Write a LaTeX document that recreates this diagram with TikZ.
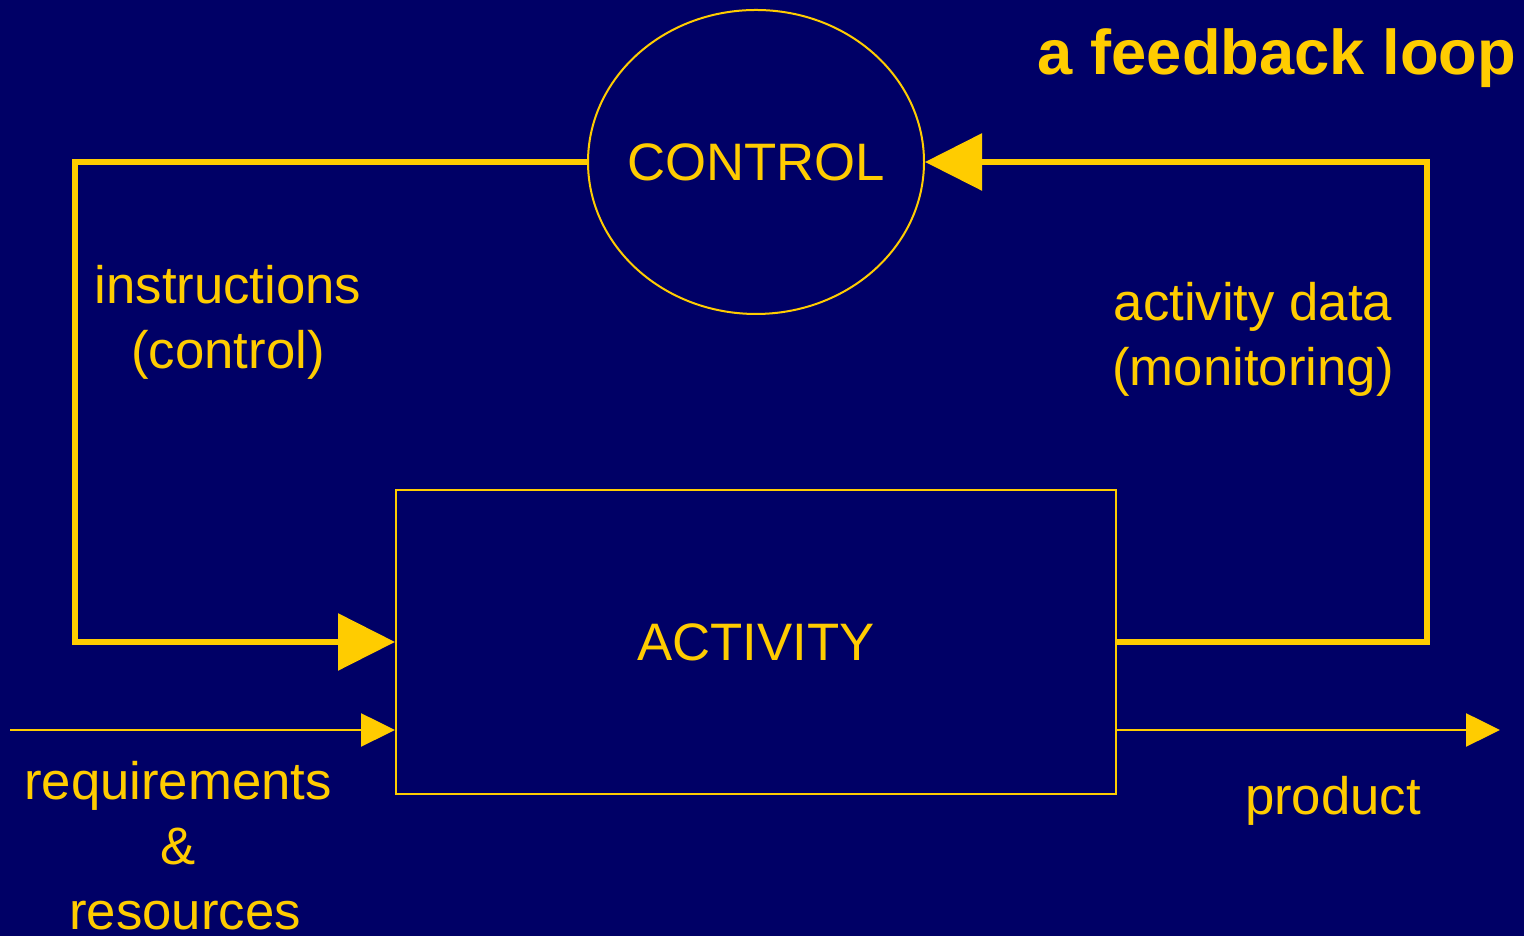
\documentclass[tikz,border=0pt]{standalone}
\usepackage{fontspec}
\setmainfont{Liberation Sans}
\usetikzlibrary{arrows.meta,shapes.geometric}

\definecolor{slidebg}{RGB}{0,0,102}
\definecolor{slidefg}{RGB}{255,204,0}

\tikzset{
	slidetext/.style={text=slidefg, font=\fontsize{15}{18.5}\selectfont, inner sep=0pt, align=center},
	loopline/.style={draw=slidefg, line width=0.06cm, -{Triangle[length=0.57cm, width=0.56cm]}},
	flowline/.style={draw=slidefg, line width=0.025cm, -{Triangle[length=0.34cm, width=0.33cm]}},
}

\begin{document}
\begin{tikzpicture}

		% background
		\useasboundingbox (0,0) rectangle (15.24,9.36);
		\fill [slidebg] (0,0) rectangle (15.24,9.36);

		% title
		\node [slidetext, font=\fontsize{18}{22}\selectfont\bfseries, anchor=base] (title) at (12.77,8.61) {a feedback loop};

		% boxes
		\node [ellipse, draw=slidefg, line width=0.02cm, inner sep=0pt, minimum width=3.36cm, minimum height=3.04cm,
			label={[slidetext]center:CONTROL}] (control) at (7.56,7.74) {};
		\node [slidetext, rectangle, draw=slidefg, line width=0.02cm, minimum width=7.20cm, minimum height=3.04cm] (activity) at (7.56,2.94) {ACTIVITY};

		% loop
		\coordinate (leftbend) at (0.75,7.74);
		\coordinate (rightbend) at (14.27,7.74);
		\draw [loopline] (control.west) -- (leftbend) |- (activity.west);
		\draw [loopline] (activity.east) -| (rightbend) -- (control.east);

		% in and out
		\coordinate (reqstart) at (0.10,2.06);
		\coordinate (prodend) at (15.00,2.06);
		\draw [flowline] (reqstart) -- (reqstart -| activity.west);
		\draw [flowline] (reqstart -| activity.east) -- (prodend);

		% labels
		\node [slidetext] (instr) at (2.28,6.14) {instructions\\(control)};
		\node [slidetext] (data) at (12.53,5.97) {activity data\\(monitoring)};
		\node [slidetext] (req) at (1.78,0.90) {requirements\\\&\\\hspace*{0.14cm}resources};
		\node [slidetext, anchor=base] (prod) at (13.33,1.21) {product};

	\end{tikzpicture}
\end{document}
